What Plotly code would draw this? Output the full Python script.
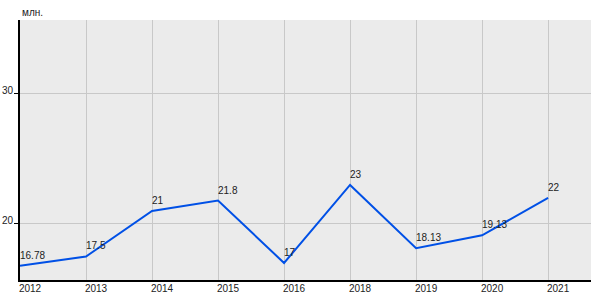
import plotly.graph_objects as go

years = ["2012", "2013", "2014", "2015", "2016", "2018", "2019", "2020", "2021"]
values = [16.78, 17.5, 21, 21.8, 17, 23, 18.13, 19.13, 22]
labels = ["16.78", "17.5", "21", "21.8", "17", "23", "18.13", "19.13", "22"]

FONT = "Liberation Sans, Arial"

fig = go.Figure()
fig.add_trace(go.Scatter(
    x=years, y=values, mode="lines",
    line=dict(color="#0050e6", width=2),
    hoverinfo="skip",
))

for i, (v, t) in enumerate(zip(values, labels)):
    fig.add_annotation(x=i, y=v, text=t, showarrow=False,
                       xanchor="left", yanchor="bottom", xshift=-2, yshift=3,
                       font=dict(family=FONT, size=10, color="#222222"))

fig.add_annotation(x=0, y=1, xref="paper", yref="paper", text="млн.", showarrow=False,
                   xanchor="left", yanchor="bottom", yshift=0,
                   font=dict(family=FONT, size=10, color="#222222"))

fig.update_layout(
    width=600, height=300,
    margin=dict(l=20, r=9, t=20, b=20),
    paper_bgcolor="white",
    plot_bgcolor="#ebebeb",
    showlegend=False,
    font=dict(family=FONT, size=10, color="#222222"),
    xaxis=dict(
        type="category", range=[0, 8.65], automargin=False,
        showgrid=True, gridcolor="#c8c8c8", gridwidth=1,
        showline=True, linecolor="black", linewidth=2,
        ticks="", tickfont=dict(size=10), ticklabelshift=10, ticklabelstandoff=-2,
        zeroline=False, fixedrange=True,
    ),
    yaxis=dict(
        range=[15.69, 35.69], tickvals=[20, 30], automargin=False,
        showgrid=True, gridcolor="#c8c8c8", gridwidth=1,
        showline=True, linecolor="black", linewidth=2,
        ticks="outside", ticklen=4, tickcolor="black",
        tickfont=dict(size=10), ticklabelshift=-3, ticklabelstandoff=-1,
        zeroline=False, fixedrange=True,
    ),
)

fig.write_html("out.html")
